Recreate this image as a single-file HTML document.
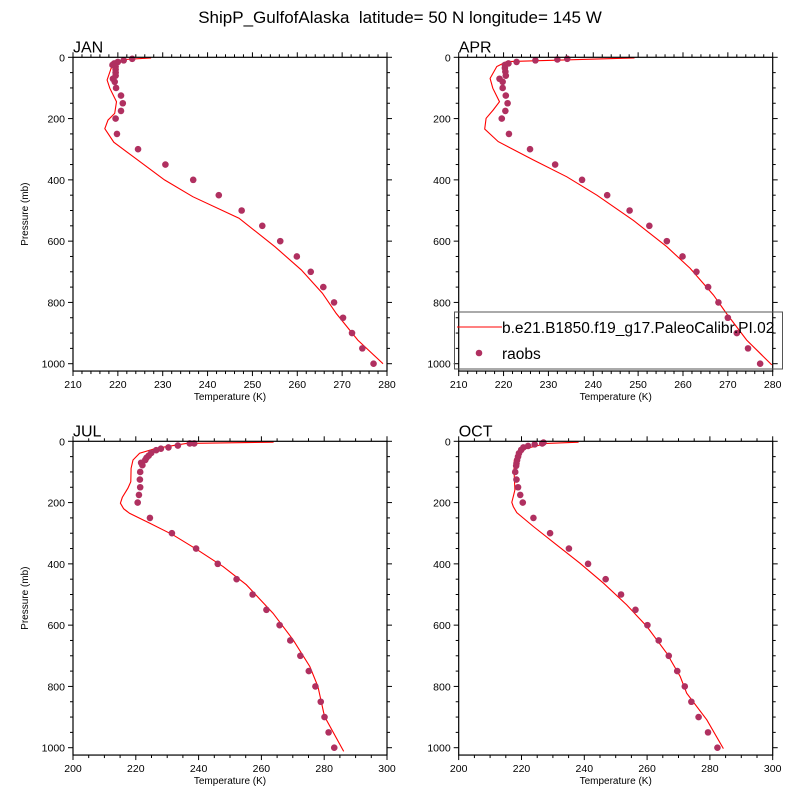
<!DOCTYPE html>
<html><head><meta charset="utf-8">
<style>
body{margin:0;background:#fff;}
svg text{font-family:"Liberation Sans",sans-serif;fill:#000;white-space:pre;}
</style></head>
<body>
<svg id="c" width="800" height="800" xmlns="http://www.w3.org/2000/svg">
<rect width="800" height="800" fill="#fff"/>
<text x="400" y="23" font-size="17" text-anchor="middle" xml:space="preserve">ShipP_GulfofAlaska  latitude= 50 N longitude= 145 W</text>
</svg>
<script>
// ---- data ----
const janObsP=[5,10,15,20,25,30,40,50,60,70,80,100,125,150,175,200,250,300,350,400,450,500,550,600,650,700,750,800,850,900,950,1000];
const janObsT=[223.2,221.3,220.0,219.2,218.8,219.5,219.5,219.5,219.5,218.9,219.3,219.6,220.7,221.1,220.7,219.5,219.8,224.5,230.6,236.8,242.5,247.6,252.2,256.2,259.9,263.0,265.8,268.2,270.2,272.2,274.5,277.0];
const janModP=[2,7,15,36,74,101,145,183,205,233,277,324,400,455,525,618,694,770,836,923,1000];
const janModT=[227.4,221.9,220.0,218.5,217.6,218.2,219.7,219.3,217.8,217.1,219.1,223.4,230.4,236.7,247.0,255.0,260.9,265.6,268.7,273.5,279.1];

const aprObsP=[5,7,10,15,20,25,35,47,60,70,80,100,125,150,175,200,250,300,350,400,450,500,550,600,650,700,750,800,850,900,950,1000];
const aprObsT=[234.2,232.0,227.1,222.9,221.1,220.3,220.3,220.4,220.5,219.1,219.8,219.8,220.5,220.9,220.4,219.6,221.2,225.9,231.5,237.5,243.1,248.1,252.5,256.4,259.9,263.0,265.6,267.9,270.0,272.0,274.5,277.2];
const aprModP=[2,14,30,69,101,145,172,199,234,275,335,390,450,533,618,689,776,836,923,1004];
const aprModT=[249.2,220.7,218.5,217.0,217.6,219.1,217.7,216.1,215.8,218.8,226.6,234.1,240.8,249.0,256.4,261.6,266.8,269.7,274.2,279.8];

const julObsP=[7,7,14,20,24,29,38,47,54,61,70,78,100,125,150,175,200,250,300,350,400,450,500,550,600,650,700,750,800,850,900,950,1000];
const julObsT=[237.2,238.6,233.4,230.4,228.0,226.5,224.9,224.1,223.4,223.0,221.7,222.1,221.4,221.3,221.4,221.0,220.6,224.5,231.5,239.2,246.1,252.1,257.2,261.6,265.8,269.2,272.4,275.1,277.2,278.9,280.1,281.4,283.2];
const julModP=[3,7,23,39,61,88,132,153,183,202,220,235,267,305,352,409,468,561,648,735,800,898,1012];
const julModT=[263.9,236.1,226.5,221.2,219.1,218.5,218.4,217.5,215.7,215.1,216.1,218.0,224.4,231.8,239.3,247.8,255.2,263.7,270.1,275.4,278.0,280.1,286.2];

const octObsP=[4,7,10,15,20,28,39,50,61,72,80,100,125,150,175,200,250,300,350,400,450,500,550,600,650,700,750,800,850,900,950,1000];
const octObsT=[227.0,226.6,224.2,222.1,220.6,219.9,219.2,218.9,218.6,218.4,218.3,218.0,218.4,218.9,219.6,220.4,223.8,229.1,235.1,241.2,246.8,251.7,256.3,260.1,263.7,266.9,269.6,272.0,274.1,276.4,279.4,282.4];
const octModP=[3,7,23,39,61,93,159,180,199,213,233,278,338,398,463,534,604,691,767,822,909,1003];
const octModT=[238.2,228.0,221.7,219.0,217.7,217.6,217.9,217.4,216.9,217.4,218.5,223.8,231.2,238.6,246.1,253.5,259.9,266.2,270.5,272.6,279.0,284.3];

const xTicksA=[210,220,230,240,250,260,270,280];
const xTicksB=[200,220,240,260,280,300];
const yTicks=[0,200,400,600,800,1000];

const NS="http://www.w3.org/2000/svg";
const svg=document.getElementById('c');
function mk(tag,attrs,parent){const e=document.createElementNS(NS,tag);for(const k in attrs)e.setAttribute(k,attrs[k]);(parent||svg).appendChild(e);return e;}

function panel(key,label,L,R,T0,xmin,xmax,xTicks,minorStep,obsP,obsT,modP,modT,showY){
  const pxPerMb=0.3064, bottomMb=1024;
  const B=T0+bottomMb*pxPerMb;
  const sx=v=>L+(v-xmin)/(xmax-xmin)*(R-L);
  const sy=p=>T0+p*pxPerMb;
  const g=mk('g',{});
  
  
  const t=mk('text',{x:L,y:T0-5,'font-size':16},g);t.textContent=label;
  
  
  for(let v=xmin;v<=xmax+1e-6;v+=minorStep){
    const maj=xTicks.some(m=>Math.abs(m-v)<1e-6);const len=maj?5:3;const x=sx(v);
    mk('line',{x1:x,y1:T0,x2:x,y2:T0-len,stroke:'#000','stroke-width':1},g);
    mk('line',{x1:x,y1:B,x2:x,y2:B+len,stroke:'#000','stroke-width':1},g);
  }
  for(let p=0;p<=1000;p+=50){
    const maj=p%200===0;const len=maj?5:3;const y=sy(p);
    mk('line',{x1:L,y1:y,x2:L-len,y2:y,stroke:'#000','stroke-width':1},g);
    mk('line',{x1:R,y1:y,x2:R+len,y2:y,stroke:'#000','stroke-width':1},g);
  }
  xTicks.forEach(v=>{const e=mk('text',{x:sx(v),y:B+17,'font-size':10.5,'text-anchor':'middle'},g);e.textContent=v;
    
    });
  yTicks.forEach(p=>{const e=mk('text',{x:L-8,y:sy(p)+4,'font-size':10.5,'text-anchor':'end'},g);e.textContent=p;
    
    });
  const xl=mk('text',{x:(L+R)/2,y:B+29,'font-size':10,'text-anchor':'middle'},g);xl.textContent='Temperature (K)';
  
  
  if(showY){const yl=mk('text',{x:0,y:0,'font-size':10,'text-anchor':'middle',transform:`translate(${L-45},${(T0+B)/2}) rotate(-90)`},g);yl.textContent='Pressure (mb)';
    
    }
  const d=modP.map((p,i)=>(i?'L':'M')+sx(modT[i]).toFixed(1)+','+sy(p).toFixed(1)).join(' ');
  const ln=mk('path',{d:d,fill:'none',stroke:'#ff0000','stroke-width':1.1},g);
  
  
  obsP.forEach((p,i)=>{const c=mk('circle',{cx:sx(obsT[i]),cy:sy(p),r:3.3,fill:'#b03060'},g);
    
    });
  const fr=mk('rect',{x:L,y:T0,width:R-L,height:B-T0,fill:'none',stroke:'#000','stroke-width':1.2},g);
  
  
}
panel('jan','JAN',73,387,57.3,210,280,xTicksA,2,janObsP,janObsT,janModP,janModT,true);
panel('apr','APR',458.7,772.7,57.3,210,280,xTicksA,2,aprObsP,aprObsT,aprModP,aprModT,false);
panel('jul','JUL',73,387,441.3,200,300,xTicksB,5,julObsP,julObsT,julModP,julModT,true);
panel('oct','OCT',458.7,772.7,441.3,200,300,xTicksB,5,octObsP,octObsT,octModP,octModT,false);

const lg=mk('g',{});


mk('rect',{x:454.5,y:312,width:328,height:57,fill:'none',stroke:'#555','stroke-width':1},lg);
const l1=mk('line',{x1:457,y1:327,x2:502,y2:327,stroke:'#ff0000','stroke-width':1.1},lg);


const t1=mk('text',{x:502,y:333,'font-size':15.5},lg);t1.textContent='b.e21.B1850.f19_g17.PaleoCalibr.PI.02';


const c2=mk('circle',{cx:479,cy:353,r:3.3,fill:'#b03060'},lg);


const t2=mk('text',{x:502,y:359,'font-size':15.5},lg);t2.textContent='raobs';


</script>
</body></html>
